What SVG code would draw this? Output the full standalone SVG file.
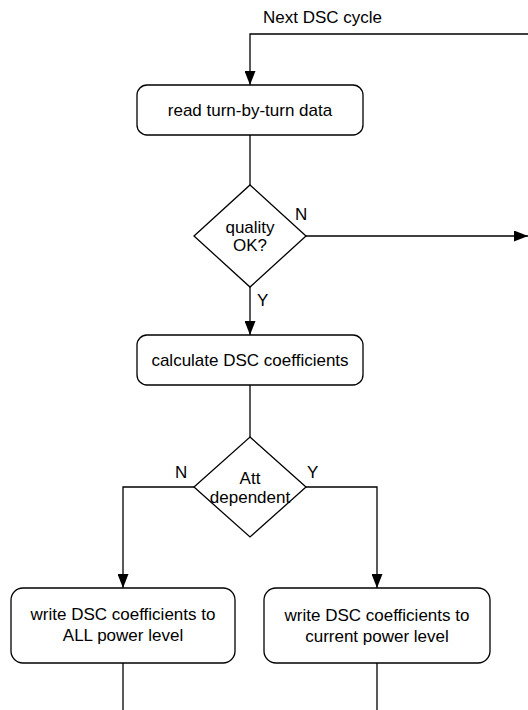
<svg xmlns="http://www.w3.org/2000/svg" width="528" height="710" viewBox="0 0 528 710">
  <style>
    .box { fill: #ffffff; stroke: #000000; stroke-width: 1.3; }
    .edge { fill: none; stroke: #000000; stroke-width: 1.3; }
    text { font-family: "Liberation Sans", Arial, sans-serif; font-size: 17px; fill: #000000; }
    .c { text-anchor: middle; }
  </style>
  <defs>
    <marker id="arrow" viewBox="0 0 14 11" refX="14" refY="5.5" markerWidth="14" markerHeight="11" markerUnits="userSpaceOnUse" orient="auto">
      <path d="M0,0 L14,5.5 L0,11 Z" fill="#000000"/>
    </marker>
  </defs>
  <rect width="528" height="710" fill="#ffffff"/>

  <g id="connectors">
    <path class="edge" d="M528,34 H250 V85" marker-end="url(#arrow)"/>
    <path class="edge" d="M250,135 V185"/>
    <path class="edge" d="M306,236 H528" marker-end="url(#arrow)"/>
    <path class="edge" d="M250,287 V335" marker-end="url(#arrow)"/>
    <path class="edge" d="M250,385 V437"/>
    <path class="edge" d="M194,487 H123 V588" marker-end="url(#arrow)"/>
    <path class="edge" d="M306,487 H377 V588" marker-end="url(#arrow)"/>
    <path class="edge" d="M123,663 V710"/>
    <path class="edge" d="M377,663 V710"/>
  </g>

  <g id="labels">
    <text x="263" y="23">Next DSC cycle</text>
    <text x="295" y="220">N</text>
    <text x="257" y="306">Y</text>
    <text x="175" y="478">N</text>
    <text x="307" y="478">Y</text>
  </g>

  <g id="read-data">
    <rect class="box" x="137" y="85" width="226" height="50" rx="10"/>
    <text class="c" x="250" y="116">read turn-by-turn data</text>
  </g>

  <g id="quality-check">
    <path class="box" d="M250,185 L306,236 L250,287 L194,236 Z"/>
    <text class="c" x="250" y="233">quality</text>
    <text class="c" x="250" y="251">OK?</text>
  </g>

  <g id="calculate">
    <rect class="box" x="137" y="335" width="226" height="50" rx="10"/>
    <text class="c" x="250" y="366">calculate DSC coefficients</text>
  </g>

  <g id="att-dependent">
    <path class="box" d="M250,437 L306,487 L250,537 L194,487 Z"/>
    <text class="c" x="250" y="484">Att</text>
    <text class="c" x="250" y="503">dependent</text>
  </g>

  <g id="write-all">
    <rect class="box" x="11" y="588" width="224" height="75" rx="12"/>
    <text class="c" x="123" y="620">write DSC coefficients to</text>
    <text class="c" x="123" y="641">ALL power level</text>
  </g>

  <g id="write-current">
    <rect class="box" x="264" y="588" width="226" height="75" rx="12"/>
    <text class="c" x="377" y="621">write DSC coefficients to</text>
    <text class="c" x="377" y="642">current power level</text>
  </g>
</svg>
